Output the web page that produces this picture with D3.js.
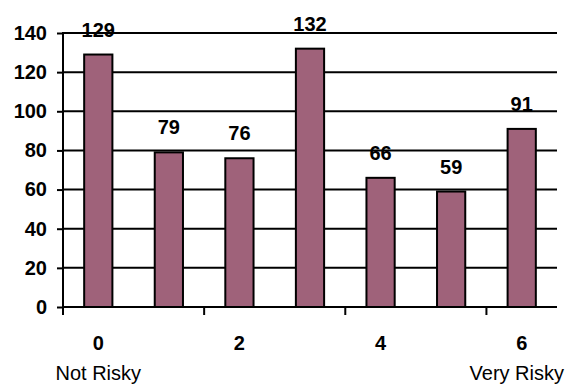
<!DOCTYPE html>
<html><head><meta charset="utf-8">
<script src="https://cdn.jsdelivr.net/npm/d3@7"></script>
<style>body{margin:0;background:#fff}svg{display:block}text{font-family:"Liberation Sans",Arial,sans-serif}</style>
</head><body><svg id="c" width="577" height="387"></svg>
<script>
const categories = [0, 1, 2, 3, 4, 5, 6];
const values = [129, 79, 76, 132, 66, 59, 91];
const yTicks = [0, 20, 40, 60, 80, 100, 120, 140];
const xTickLabels = {0: "0", 2: "2", 4: "4", 6: "6"};
const endLabels = ["Not Risky", "Very Risky"];

const FS = 20;
const svg = d3.select("#c");
const L = 63, R = 557, T = 33, B = 307;
const x = d3.scaleBand().domain(categories).range([L, R]).paddingInner(0.6).paddingOuter(0.3);
const y = d3.scaleLinear().domain([0, 140]).range([B, T]);
const step = x.step();

// gridlines
svg.append("g").selectAll("line").data(yTicks.filter(d => d > 0)).join("line")
  .attr("x1", L).attr("x2", R).attr("y1", d => y(d)).attr("y2", d => y(d))
  .attr("stroke", "#000").attr("stroke-width", 2);

// y axis
const ya = svg.append("g").attr("transform", `translate(${L},0)`)
  .call(d3.axisLeft(y).tickValues(yTicks).tickSize(6).tickPadding(10));
ya.select(".domain").remove();
ya.append("line").attr("x1", 0).attr("x2", 0).attr("y1", T - 1).attr("y2", B + 8).attr("stroke", "#000").attr("stroke-width", 2);
ya.selectAll(".tick line").attr("stroke", "#000").attr("stroke-width", 2);
ya.selectAll(".tick text").attr("font-size", FS).attr("font-weight", "bold").attr("fill", "#000")
  .attr("font-family", '"Liberation Sans",Arial,sans-serif');

// bars
svg.append("g").selectAll("rect").data(values).join("rect")
  .attr("x", (d, i) => x(categories[i]))
  .attr("width", x.bandwidth())
  .attr("y", d => y(d))
  .attr("height", d => y(0) - y(d))
  .attr("fill", "#9F627A").attr("stroke", "#000").attr("stroke-width", 2);

// x axis line
svg.append("line").attr("x1", L).attr("x2", R).attr("y1", B).attr("y2", B).attr("stroke", "#000").attr("stroke-width", 2);
// x ticks at boundaries 2,4,6
svg.append("g").selectAll("line").data([2, 4, 6]).join("line")
  .attr("x1", d => x(categories[d]) - (step - x.bandwidth()) / 2)
  .attr("x2", d => x(categories[d]) - (step - x.bandwidth()) / 2)
  .attr("y1", B).attr("y2", B + 8).attr("stroke", "#000").attr("stroke-width", 2);

// x tick labels
svg.append("g").selectAll("text").data(Object.keys(xTickLabels)).join("text")
  .attr("x", d => x(+d) + x.bandwidth() / 2).attr("y", 350)
  .attr("text-anchor", "middle").attr("font-size", FS).attr("font-weight", "bold")
  .text(d => xTickLabels[d]);

svg.append("text").attr("x", x(0) + x.bandwidth() / 2).attr("y", 380).attr("text-anchor", "middle")
  .attr("font-size", FS).text(endLabels[0]);
svg.append("text").attr("x", 564).attr("y", 380).attr("text-anchor", "end")
  .attr("font-size", FS).text(endLabels[1]);

// value labels
svg.append("g").selectAll("text").data(values).join("text")
  .attr("x", (d, i) => x(categories[i]) + x.bandwidth() / 2)
  .attr("y", d => y(d) - 18)
  .attr("text-anchor", "middle").attr("font-size", FS).attr("font-weight", "bold")
  .text(d => d);
</script></body></html>
